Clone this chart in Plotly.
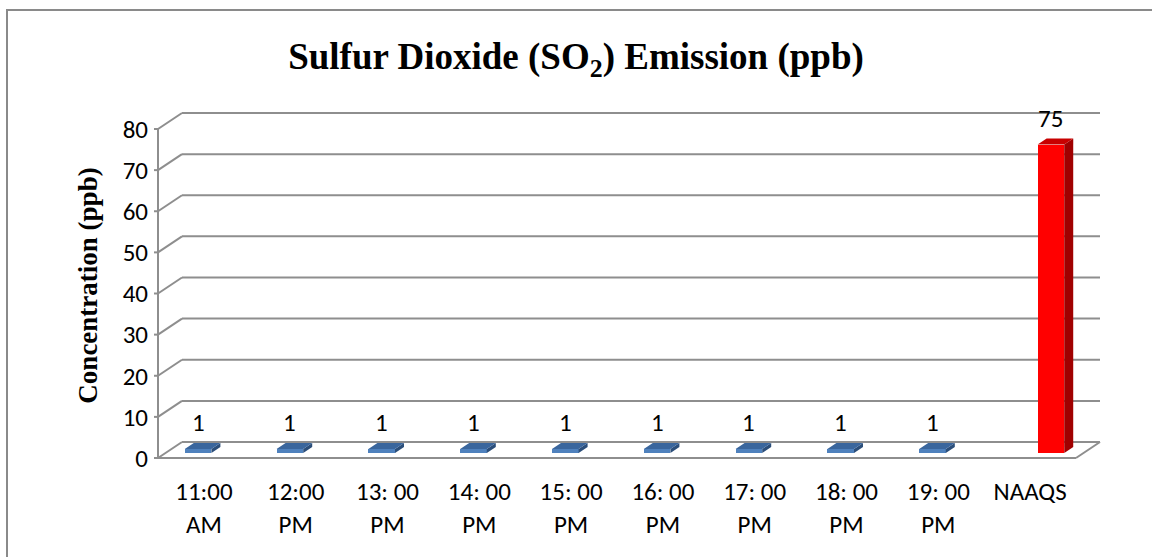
import plotly.graph_objects as go

# ---- data ----
categories = ["11:00<br>AM", "12:00<br>PM", "13: 00<br>PM", "14: 00<br>PM", "15: 00<br>PM",
              "16: 00<br>PM", "17: 00<br>PM", "18: 00<br>PM", "19: 00<br>PM", "NAAQS"]
measured = [1, 1, 1, 1, 1, 1, 1, 1, 1, None]      # SO2 readings (ppb)
standard = [None] * 9 + [75]                         # NAAQS limit (ppb)
y_ticks = [0, 10, 20, 30, 40, 50, 60, 70, 80]

# ---- geometry of the pseudo-3D box ----
W, H = 1152, 557
FRONT_L, FRONT_R = 158, 1076          # front edge of floor (px)
Y0_PX, Y80_PX = 458, 129              # value 0 and 80 on front axis (px)
DEPTH_PX_X, DEPTH_PX_Y = 24, 16       # wall depth offset (px)
PAD = 4

n = len(categories)
sx = (FRONT_R - FRONT_L) / n
sy = (Y0_PX - Y80_PX) / (y_ticks[-1] - y_ticks[0])
DX = DEPTH_PX_X / sx
DY = DEPTH_PX_Y / sy
YMAX = y_ticks[-1]

x_lo, x_hi = -0.5, n - 0.5
x_range = [x_lo - PAD / sx, x_hi + DX + PAD / sx]
y_range = [-PAD / sy, YMAX + DY + PAD / sy]

plot_l = FRONT_L - PAD
plot_r = FRONT_L + (x_hi + DX - x_lo) * sx + PAD
plot_b = Y0_PX + PAD
plot_t = Y80_PX - DEPTH_PX_Y - PAD

# bars sit in the middle of the depth
Z_FRONT = 5 / 16
Z_DEPTH = 0.375
BW = 0.29

GRID = "#8e8e8e"
fig = go.Figure()


def faces(xs, vals, offset):
    """Front-face corners and side/top polygons for each bar."""
    side_x, side_y, top_x, top_y, tops = [], [], [], [], []
    b = Z_FRONT * DY
    for x, v in zip(xs, vals):
        if v is None:
            continue
        xl = x + Z_FRONT * DX + offset
        xr = xl + BW
        t = b + v
        ddx, ddy = Z_DEPTH * DX, Z_DEPTH * DY
        side_x += [xr, xr + ddx, xr + ddx, xr, xr, None]
        side_y += [b, b + ddy, t + ddy, t, b, None]
        top_x += [xl, xr, xr + ddx, xl + ddx, xl, None]
        top_y += [t, t, t + ddy, t + ddy, t, None]
        tops.append(((xl + xr) / 2, t, v))
    return side_x, side_y, top_x, top_y, tops


idx = list(range(n))
series = [
    (measured, -BW, "#4f81bd", "#3a669d", "#2b4e7a"),
    (standard, 0.0, "#ff0000", "#c80000", "#a00000"),
]

labels = []
for vals, off, c_front, c_top, c_side in series:
    fig.add_trace(go.Bar(
        x=[i + Z_FRONT * DX for i in idx], y=vals, base=Z_FRONT * DY,
        width=BW, offset=off, marker=dict(color=c_front, line=dict(width=0)),
        hoverinfo="skip", showlegend=False))
    sxs, sys_, txs, tys, tops = faces(idx, vals, off)
    fig.add_trace(go.Scatter(x=sxs, y=sys_, fill="toself", fillcolor=c_side,
                             mode="lines", line=dict(width=0, color=c_side),
                             hoverinfo="skip", showlegend=False))
    fig.add_trace(go.Scatter(x=txs, y=tys, fill="toself", fillcolor=c_top,
                             mode="lines", line=dict(width=0, color=c_top),
                             hoverinfo="skip", showlegend=False))
    labels += tops

# ---- walls, floor, gridlines ----
shapes = []
line = dict(color=GRID, width=2)
for v in y_ticks:
    shapes.append(dict(type="line", xref="x", yref="y", x0=x_lo + DX, x1=x_hi + DX,
                       y0=v + DY, y1=v + DY, line=line, layer="below"))
    shapes.append(dict(type="line", xref="x", yref="y", x0=x_lo, x1=x_lo + DX,
                       y0=v, y1=v + DY, line=line, layer="below"))
    shapes.append(dict(type="line", xref="x", yref="y", x0=x_lo - 7 / sx, x1=x_lo,
                       y0=v, y1=v, line=line, layer="below"))
shapes.append(dict(type="line", xref="x", yref="y", x0=x_lo, x1=x_lo, y0=0, y1=YMAX,
                   line=line, layer="below"))
shapes.append(dict(type="line", xref="x", yref="y", x0=x_lo, x1=x_hi, y0=0, y1=0,
                   line=line, layer="below"))
shapes.append(dict(type="line", xref="x", yref="y", x0=x_hi, x1=x_hi + DX, y0=0, y1=DY,
                   line=line, layer="below"))


# outer chart border
def px_to_paper_x(px):
    return (px - plot_l) / (plot_r - plot_l)


def px_to_paper_y(py):
    return (plot_b - py) / (plot_b - plot_t)


shapes.append(dict(type="rect", xref="paper", yref="paper",
                   x0=px_to_paper_x(7), x1=px_to_paper_x(W + 10),
                   y0=px_to_paper_y(H + 10), y1=px_to_paper_y(10),
                   line=dict(color="#8a8a8a", width=2), fillcolor="rgba(0,0,0,0)"))

LABEL_FONT = dict(family="Calibri, Carlito, Lato, sans-serif", size=25, color="#000000")
annotations = [dict(x=x, y=t, xref="x", yref="y", text=str(v), showarrow=False,
                    yanchor="bottom", yshift=9, font=LABEL_FONT)
               for x, t, v in labels]

fig.update_layout(
    width=W, height=H,
    margin=dict(l=plot_l, r=W - plot_r, t=plot_t, b=H - plot_b, pad=0),
    paper_bgcolor="white", plot_bgcolor="white",
    bargap=0, barmode="overlay",
    shapes=shapes, annotations=annotations,
    title=dict(text="<b>Sulfur Dioxide (SO<sub>2</sub>) Emission (ppb)</b>",
               x=0.5, xref="container", xanchor="center",
               y=1 - 56 / H, yref="container", yanchor="middle",
               font=dict(family="Times New Roman, Liberation Serif, serif", size=37,
                         color="#000000")),
    xaxis=dict(range=x_range, tickvals=idx, ticktext=categories, showgrid=False,
               zeroline=False, showline=False, ticks="", tickfont=LABEL_FONT,
               ticklabelstandoff=12),
    yaxis=dict(range=y_range, tickvals=y_ticks, showgrid=False, zeroline=False,
               showline=False, ticks="", tickfont=LABEL_FONT, ticklabelstandoff=5,
               title=dict(text="<b>Concentration (ppb)</b>", standoff=17,
                          font=dict(family="Times New Roman, Liberation Serif, serif",
                                    size=27, color="#000000"))),
)

fig.write_html("out.html")
